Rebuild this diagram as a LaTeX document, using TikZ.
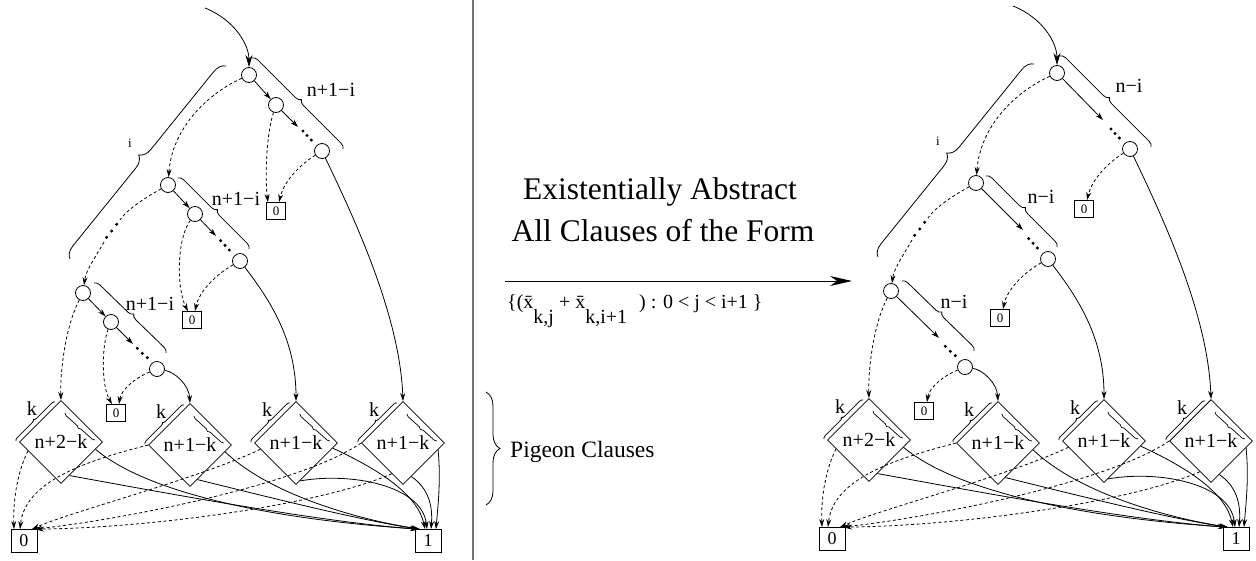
\documentclass[tikz,border=0pt]{standalone}
\usepackage{fontspec}
\setmainfont{Liberation Serif}
\usetikzlibrary{arrows.meta,shapes.geometric,decorations.pathreplacing,calc}

\tikzset{
  circ/.style={circle, draw, line width=0.8pt, minimum size=15pt, inner sep=0pt},
  sbox/.style={draw, line width=0.8pt, minimum width=19pt, minimum height=17pt, inner sep=0pt, font=\fontsize{13}{13}\selectfont},
  bbox/.style={draw, line width=0.8pt, minimum width=26pt, minimum height=23pt, inner sep=0pt, font=\fontsize{18}{18}\selectfont},
  dia/.style={diamond, aspect=1, draw, line width=0.8pt, minimum width=83pt, minimum height=83pt, inner sep=0pt, font=\fontsize{20}{20}\selectfont},
  sarr/.style={line width=0.8pt, -{Stealth[length=8pt,width=5pt]}},
  darr/.style={sarr, dash pattern=on 3pt off 2.5pt},
  dsh/.style={line width=0.8pt, dash pattern=on 3pt off 2.5pt},
  lab/.style={font=\fontsize{20}{20}\selectfont, inner sep=0pt},
  slab/.style={font=\fontsize{13}{13}\selectfont, inner sep=0pt},
  brc/.style={line width=0.8pt, decorate, decoration={brace, amplitude=#1}},
  brc/.default=5pt,
  ibrc/.style={line width=0.7pt, decorate, decoration={brace, mirror, amplitude=2.5pt}},
  dotf/.style={fill=black},
}

\newcommand{\pgdia}[4]{%
  \node[dia] (#1) at (#2,#3) {#4};
  \draw[brc=3pt] (#2-45,#3-1) -- (#2-6,#3-40);
  \node[lab] (#1k) at (#2-29,#3-33) {k};
  \draw[ibrc] (#2+4,#3-29) -- (#2+34,#3-2);
}

\newcommand{\panelcore}{%
  \coordinate (src) at (205,8);
  \node[circ] (A1) at (249,75) {};
  \node[circ] (A3) at (322,151) {};
  \node[circ] (B1) at (168,185) {};
  \node[circ] (B3) at (240,261) {};
  \node[circ] (C1) at (83,293) {};
  \node[circ] (C3) at (157,369) {};
  \node[sbox] (Z1) at (276,211) {0};
  \node[sbox] (Z2) at (192,320) {0};
  \node[sbox] (Z3) at (116,413) {0};
  \pgdia{D1}{61}{442}{n+2−k}
  \pgdia{D2}{190}{445}{n+1−k}
  \pgdia{D3}{296}{443}{n+1−k}
  \pgdia{D4}{403}{443}{n+1−k}
  \node[bbox] (F) at (24,541) {0};
  \node[bbox] (T) at (428,541) {1};
  % chain dots
  \fill[dotf] (303,131) circle[radius=1.7pt] (307,135.5) circle[radius=1.7pt] (311.3,140) circle[radius=1.7pt];
  \fill[dotf] (220.7,240.7) circle[radius=1.7pt] (225,245.3) circle[radius=1.7pt] (229.3,250) circle[radius=1.7pt];
  \fill[dotf] (137.3,348.3) circle[radius=1.7pt] (142.3,353.3) circle[radius=1.7pt] (147.3,357.7) circle[radius=1.7pt];
  \fill[dotf] (116.7,224.3) circle[radius=1.7pt] (111.7,231) circle[radius=1.7pt] (106.7,237.3) circle[radius=1.7pt];
  % braces
  \draw[brc=5.5pt] (252,58) -- (343,149);
  \draw[brc=5.5pt] (178,178) -- (249,249);
  \draw[brc=5.5pt] (94,283) -- (166,353);
  \draw[brc=12pt] (70,259) -- (226,66);
  \node[slab] (il) at (130,143) {i};
  % incoming
  \draw[line width=0.8pt, -{Stealth[length=12pt,width=7pt]}] (src) .. controls (235,20) and (249,45) .. (A1);
  % dashed chain
  \draw[darr] (A1) .. controls (205,95) and (172,130) .. (B1);
  \coordinate (bcA) at (120,220);
  \coordinate (bcB) at (104,242);
  \draw[dsh] (B1) .. controls (150,195) and (128,208) .. (bcA);
  \draw[darr] (bcB) .. controls (95,258) and (86,270) .. (C1);
  \draw[darr] (C1) .. controls (66,325) and (60,370) .. (D1.north);
  % to small zero boxes
  \draw[darr] (A3) .. controls (295,168) and (283,185) .. ([xshift=3pt]Z1.north);
  \draw[darr] (B3) .. controls (215,275) and (199,292) .. ([xshift=3pt]Z2.north);
  \draw[darr] (C3) .. controls (135,378) and (121,390) .. ([xshift=3pt]Z3.north);
  % solid to diamonds
  \draw[sarr] (A3) .. controls (360,230) and (400,320) .. (D4.north);
  \draw[sarr] (B3) .. controls (270,300) and (296,340) .. (D3.north);
  \draw[sarr] (C3) .. controls (175,372) and (189,385) .. (D2.north);
  % to 0
  \draw[darr] (D1.195) .. controls (16,475) and (13,505) .. ([xshift=-10pt]F.north);
  \draw[darr] (D2.west) .. controls (90,460) and (25,480) .. ([xshift=-4pt]F.north);
  \draw[darr] (D3.190) .. controls (200,478) and (70,512) .. ([xshift=8pt]F.north);
  \draw[darr] (D4.west) .. controls (300,485) and (120,520) .. ([xshift=10pt]F.north);
  \draw[darr] (D4.250) .. controls (320,505) and (150,528) .. ([xshift=12pt]F.north);
  % to 1
  \draw[sarr] (D1.348) .. controls (150,495) and (280,520) .. ([xshift=-9pt]T.north);
  \draw[sarr] (D1.284) .. controls (160,492) and (320,522) .. ([xshift=-10pt]T.north);
  \draw[sarr] (D2.349) .. controls (270,495) and (360,520) .. ([xshift=-8pt]T.north);
  \draw[sarr] (D2.282) .. controls (280,500) and (360,520) .. ([xshift=-9pt]T.north);
  \draw[sarr] (D3.352) .. controls (380,470) and (418,495) .. ([xshift=-3pt]T.north);
  \draw[sarr] (D3.276) .. controls (350,472) and (422,485) .. ([xshift=-1pt]T.north);
  \draw[sarr] (D4.284) .. controls (428,488) and (433,505) .. ([xshift=3pt]T.north);
  \draw[sarr] (D4.349) .. controls (441,480) and (438,505) .. ([xshift=8pt]T.north);
}

\begin{document}
\begin{tikzpicture}[x=1pt,y=-1pt]
\useasboundingbox (0,0) rectangle (1256,560);

% ---------- left panel ----------
\begin{scope}[name prefix=L-]
  \panelcore
  \node[circ] (A2) at (276,105) {};
  \node[circ] (B2) at (195,214) {};
  \node[circ] (C2) at (111,322) {};
  \coordinate (Ae) at (298,127);
  \coordinate (Be) at (216,236);
  \coordinate (Ce) at (133,344);
  \draw[sarr] (A1) -- (A2);
  \draw[sarr] (A2) -- (Ae);
  \draw[sarr] (B1) -- (B2);
  \draw[sarr] (B2) -- (Be);
  \draw[sarr] (C1) -- (C2);
  \draw[sarr] (C2) -- (Ce);
  \draw[darr] (A2) .. controls (266,135) and (265,180) .. ([xshift=-8pt]Z1.north);
  \draw[darr] (B2) .. controls (176,240) and (177,290) .. ([xshift=-4pt]Z2.north);
  \draw[darr] (C2) .. controls (102,345) and (101,385) .. ([xshift=-4pt]Z3.north);
  \node[lab] (la) at (331,90) {n+1−i};
  \node[lab] (lb) at (236,199) {n+1−i};
  \node[lab] (lc) at (150,304) {n+1−i};
\end{scope}

% ---------- right panel ----------
\begin{scope}[shift={(808,-2)}, name prefix=R-]
  \panelcore
  \coordinate (Ae) at (295,122);
  \coordinate (Be) at (215,232);
  \coordinate (Ce) at (131,340);
  \draw[sarr] (A1) -- (Ae);
  \draw[sarr] (B1) -- (Be);
  \draw[sarr] (C1) -- (Ce);
  \node[lab] (la) at (321,88) {n−i};
  \node[lab] (lb) at (233,199) {n−i};
  \node[lab] (lc) at (146,304) {n−i};
\end{scope}

% ---------- middle ----------
\draw[line width=1.3pt, draw=black!55] (473,0) -- (473,560);
\node[anchor=base, inner sep=0pt, font=\fontsize{31.5}{32}\selectfont] (t1) at (660,199) {Existentially Abstract};
\node[anchor=base, inner sep=0pt, font=\fontsize{31.5}{32}\selectfont] (t2) at (663,241) {All Clauses of the Form};
\coordinate (ma) at (505,281);
\coordinate (mb) at (852,281);
\draw[line width=0.9pt, -{Stealth[length=22pt,width=10pt]}] (ma) -- (mb);
\node[anchor=base west, inner sep=0pt, font=\fontsize{20}{20}\selectfont] (form) at (507,308)
  {\{(x̄\raisebox{-15pt}{k,j} + x̄\raisebox{-15pt}{k,i+1}\hspace{12pt}) : 0 < j < i+1 \}};
\draw[brc=14pt] (486,392) -- (486,505);
\node[anchor=base west, inner sep=0pt, font=\fontsize{23.5}{24}\selectfont] (pig) at (510,457) {Pigeon Clauses};
\end{tikzpicture}
\end{document}
